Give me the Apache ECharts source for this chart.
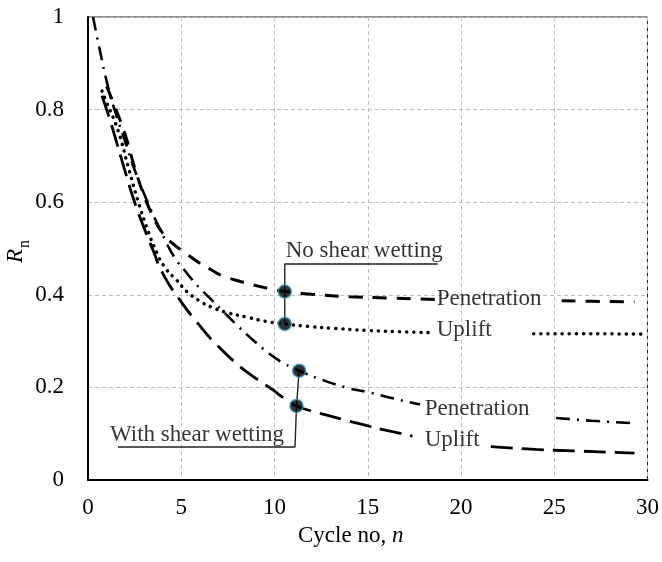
<!DOCTYPE html>
<html><head><meta charset="utf-8">
<script src="https://cdn.jsdelivr.net/npm/echarts/dist/echarts.min.js"></script>
<style>html,body{margin:0;padding:0;background:#fff}#c{width:662px;height:562px}</style>
</head><body><div id="c"></div>
<script>
// ---- data ----
const xTicks = [0, 5, 10, 15, 20, 25, 30];
const yTicks = [0, 0.2, 0.4, 0.6, 0.8, 1];

// No shear wetting - Penetration (null = gap for label)
const nPenNo = [1.0,1.5,2.0,2.5,3.0,3.5,4.0,4.5,5.0,5.5,6.0,6.6,7.2,7.9,8.6,9.2,10.0,10.55,12,14,16,18.6,22,25.4,27,29.3];
const rPenNo = [0.85,0.80,0.745,0.675,0.615,0.568,0.533,0.512,0.497,0.482,0.468,0.454,0.441,0.432,0.424,0.418,0.411,0.407,0.401,0.396,0.393,0.390,null,0.387,0.386,0.385];
// No shear wetting - Uplift
const nUpNo = [0.75,1.0,1.6,2.2,2.7,3.2,3.7,4.2,4.75,5.3,6.1,6.7,7.5,8.5,9.5,10.55,12,13,15,17,18.5,21,23.9,26,29.8];
const rUpNo = [0.84,0.815,0.756,0.67,0.60,0.54,0.49,0.455,0.432,0.407,0.384,0.372,0.361,0.352,0.343,0.337,0.331,0.328,0.323,0.320,0.318,null,0.316,0.316,0.315];
// With shear wetting - Penetration
const nPenW = [0.27,0.6,1.07,1.5,2.0,2.5,3.2,4.0,4.65,5.2,5.6,6.0,6.6,7.2,7.9,8.77,9.75,10.5,11.32,12.5,14,15,15.6,16.7,17.8,21,25.1,27,29.2];
const rPenW = [1.0,0.935,0.85,0.79,0.73,0.67,0.60,0.53,0.48,0.452,0.432,0.414,0.39,0.366,0.338,0.305,0.272,0.252,0.236,0.217,0.198,0.19,0.184,0.173,0.163,null,0.134,0.128,0.123];
// With shear wetting - Uplift
const nUpW = [0.75,1.0,1.34,2.0,2.5,3.0,3.5,4.0,4.9,6.1,6.9,8.0,8.6,9.5,9.9,10.5,11.18,12,13,14,15,16,17.4,19.5,21.6,24,26,29.3];
const rUpW = [0.83,0.80,0.756,0.665,0.60,0.545,0.495,0.447,0.39,0.328,0.292,0.25,0.231,0.206,0.195,0.177,0.16,0.149,0.138,0.127,0.117,0.107,0.095,null,0.072,0.066,0.063,0.058];

// highlighted points
const markN = [10.55, 10.55, 11.32, 11.18];
const markR = [0.407, 0.337, 0.236, 0.16];

// annotation leader lines
const connNoN = [18.75, 10.55, 10.55];
const connNoR = [0.4665, 0.4665, 0.337];
const connWN = [1.6, 11.1, 11.18, 11.32];
const connWR = [0.0713, 0.0713, 0.16, 0.236];

// annotation texts
const noteText = ['No shear wetting', 'With shear wetting', 'Penetration', 'Uplift', 'Penetration', 'Uplift'];
const noteN = [10.6, 1.18, 18.7, 18.7, 18.05, 18.05];
const noteR = [0.4946, 0.097, 0.391, 0.324, 0.153, 0.086];

// ---- build ----
const FONT = 'Liberation Serif';
const zip = (a, b) => a.map((x, i) => [x, b[i]]);

const chart = echarts.init(document.getElementById('c'), null, {renderer: 'canvas'});

function curve(name, n, r, type, width, cap) {
  return {
    name, type: 'line', data: zip(n, r), showSymbol: false, symbol: 'none',
    smooth: 0.5, connectNulls: false, silent: true,
    lineStyle: {color: '#000', width, type, cap: cap || 'butt'}, z: 3
  };
}

const option = {
  animation: false,
  backgroundColor: '#fff',
  grid: {left: 88, right: 14, top: 17, bottom: 82, show: true, borderColor: '#222', borderWidth: 1, backgroundColor: 'transparent'},
  xAxis: {
    type: 'value', min: xTicks[0], max: xTicks[xTicks.length - 1], interval: 5,
    axisLine: {show: true, onZero: false, lineStyle: {color: '#000', width: 2}},
    axisTick: {show: false},
    axisLabel: {fontFamily: FONT, fontSize: 23, color: '#000', margin: 16, formatter: v => String(v)},
    splitLine: {show: true, lineStyle: {color: '#bdbdbd', type: [4, 3], width: 1}}
  },
  yAxis: {
    type: 'value', min: yTicks[0], max: yTicks[yTicks.length - 1], interval: 0.2,
    axisLine: {show: true, onZero: false, lineStyle: {color: '#000', width: 2}},
    axisTick: {show: false},
    axisLabel: {fontFamily: FONT, fontSize: 23, color: '#000', margin: 24, formatter: v => String(+v.toFixed(1))},
    splitLine: {show: true, lineStyle: {color: '#bdbdbd', type: [4, 3], width: 1}}
  },
  series: [
    curve('Penetration (no shear wetting)', nPenNo, rPenNo, [14, 10], 3),
    curve('Uplift (no shear wetting)', nUpNo, rUpNo, [0.1, 7], 3.5, 'round'),
    curve('Penetration (with shear wetting)', nPenW, rPenW, [14, 7, 2, 7], 2.6),
    curve('Uplift (with shear wetting)', nUpW, rUpW, [22, 9], 2.8),
    {type: 'line', data: zip(connNoN, connNoR), showSymbol: false, symbol: 'none', silent: true,
     lineStyle: {color: '#222', width: 1.4}, z: 4},
    {type: 'line', data: zip(connWN, connWR), showSymbol: false, symbol: 'none', silent: true,
     lineStyle: {color: '#222', width: 1.4}, z: 4},
    {type: 'scatter', data: zip(markN, markR), symbol: 'circle', symbolSize: 13, silent: true,
     itemStyle: {color: '#000', borderColor: '#2a92b8', borderWidth: 1.5}, z: 6},
    {type: 'scatter', silent: true, symbolSize: 0, z: 7,
     data: noteText.map((t, i) => ({name: t, value: [noteN[i], noteR[i]]})),
     label: {show: true, position: 'right', distance: 0, formatter: p => p.name,
             fontFamily: FONT, fontSize: 23, color: '#000'}}
  ],
  graphic: [
    {type: 'group', x: 27, y: 263, rotation: Math.PI / 2, silent: true, children: [
      {type: 'text', x: 0, y: 0, style: {text: 'R', font: 'italic 23px "Liberation Serif"', fill: '#000', align: 'left', verticalAlign: 'bottom'}},
      {type: 'text', x: 15, y: 6, style: {text: 'n', font: '16px "Liberation Serif"', fill: '#000', align: 'left', verticalAlign: 'bottom'}}
    ]},
    {type: 'text', left: 298, top: 524, silent: true, style: {
      text: '{a|Cycle no, }{b|n}', fill: '#000',
      rich: {a: {fontFamily: FONT, fontSize: 23, fill: '#000'}, b: {fontFamily: FONT, fontSize: 23, fontStyle: 'italic', fill: '#000'}}
    }}
  ]
};
chart.setOption(option);
</script>
</body></html>
